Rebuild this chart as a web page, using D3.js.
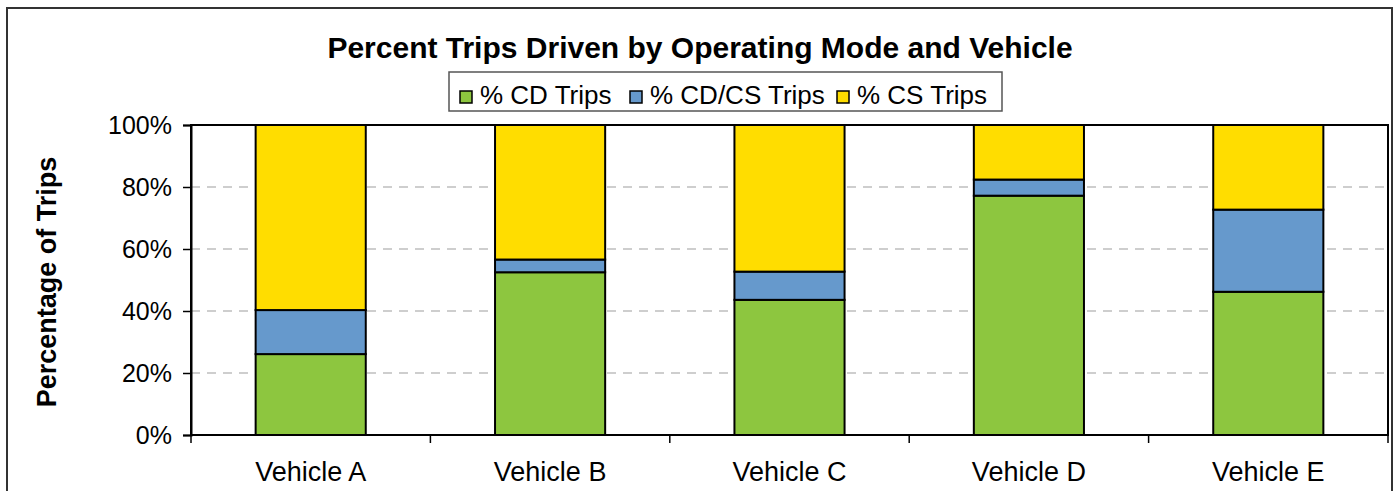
<!DOCTYPE html>
<html lang="en">
<head>
<meta charset="UTF-8">
<title>Percent Trips Driven by Operating Mode and Vehicle</title>
<script src="https://d3js.org/d3.v7.min.js"></script>
<style>
    body { margin: 0; background: #fff; font-family: "Liberation Sans", Arial, sans-serif; }
    svg text { fill: #000; }
    .grid line { stroke: #bfbfbf; stroke-dasharray: 9,7; stroke-width: 1.5; }
</style>
</head>
<body>
<svg id="chart" width="1398" height="491"></svg>
<script>
    // data (percent)
    var vehicles = ["Vehicle A", "Vehicle B", "Vehicle C", "Vehicle D", "Vehicle E"];
    var seriesNames = ["% CD Trips", "% CD/CS Trips", "% CS Trips"];
    var cdTrips   = [26.1, 52.5, 43.6, 77.2, 46.2];
    var cdcsTrips = [14.2, 4.1, 9.1, 5.2, 26.5];
    var csTrips   = [59.7, 43.4, 47.3, 17.6, 27.3];
    var yTicks = [0, 20, 40, 60, 80, 100];
    var colors = ["#8dc63f", "#6699cc", "#ffdd00"];

    var rows = vehicles.map(function(v, i) {
        return { vehicle: v, "% CD Trips": cdTrips[i], "% CD/CS Trips": cdcsTrips[i], "% CS Trips": csTrips[i] };
    });
    var stack = d3.stack().keys(seriesNames)(rows);

    var svg = d3.select("#chart");
    var plot = { left: 191, right: 1388, top: 125, bottom: 435 };

    // outer frame
    svg.append("rect")
        .attr("x", 7).attr("y", 8)
        .attr("width", 1385).attr("height", 500)
        .attr("fill", "none").attr("stroke", "#333").attr("stroke-width", 2);

    var x = d3.scaleBand().domain(vehicles)
        .range([plot.left, plot.right])
        .paddingInner(0.54).paddingOuter(0.27);
    var y = d3.scaleLinear().domain([0, 100]).range([plot.bottom, plot.top]);

    // gridlines
    svg.append("g").attr("class", "grid")
        .selectAll("line").data(yTicks.filter(function(d) { return d > 0 && d < 100; }))
        .enter().append("line")
        .attr("x1", plot.left).attr("x2", plot.right)
        .attr("y1", function(d) { return y(d); }).attr("y2", function(d) { return y(d); });

    // plot frame
    svg.append("rect")
        .attr("x", plot.left).attr("y", plot.top)
        .attr("width", plot.right - plot.left).attr("height", plot.bottom - plot.top)
        .attr("fill", "none").attr("stroke", "#000").attr("stroke-width", 2);

    // bars
    svg.append("g").selectAll("g").data(stack).enter().append("g")
        .attr("fill", function(d, i) { return colors[i]; })
        .selectAll("rect").data(function(d) { return d; })
        .enter().append("rect")
        .attr("x", function(d) { return x(d.data.vehicle); })
        .attr("y", function(d) { return y(d[1]); })
        .attr("width", x.bandwidth())
        .attr("height", function(d) { return y(d[0]) - y(d[1]); })
        .attr("stroke", "#000").attr("stroke-width", 2);

    // y axis
    var yAxis = svg.append("g")
        .attr("transform", "translate(" + plot.left + ",0)")
        .call(d3.axisLeft(y).tickValues(yTicks).tickSize(8).tickPadding(11)
            .tickFormat(function(d) { return d + "%"; }));
    yAxis.select(".domain").attr("stroke", "#000").attr("stroke-width", 2);
    yAxis.selectAll(".tick line").attr("stroke", "#000").attr("stroke-width", 1.5);
    yAxis.selectAll("text").attr("font-size", 25).attr("font-family", "Liberation Sans, Arial, sans-serif");

    // x axis: labels centred, ticks between categories
    var xAxis = svg.append("g")
        .attr("transform", "translate(0," + plot.bottom + ")")
        .call(d3.axisBottom(x).tickSize(0).tickPadding(27));
    xAxis.select(".domain").remove();
    xAxis.selectAll("text").attr("font-size", 27).attr("font-family", "Liberation Sans, Arial, sans-serif");

    var step = x.step();
    svg.append("g").selectAll("line").data(d3.range(vehicles.length + 1))
        .enter().append("line")
        .attr("x1", function(i) { return plot.left + i * step; })
        .attr("x2", function(i) { return plot.left + i * step; })
        .attr("y1", plot.bottom).attr("y2", plot.bottom + 8)
        .attr("stroke", "#000").attr("stroke-width", 1.5);

    // y axis title
    svg.append("text")
        .attr("transform", "translate(56," + ((plot.top + plot.bottom) / 2 + 2) + ") rotate(-90)")
        .attr("text-anchor", "middle")
        .attr("font-size", 27).attr("font-weight", "bold")
        .text("Percentage of Trips");

    // title
    svg.append("text")
        .attr("x", 700).attr("y", 58)
        .attr("text-anchor", "middle")
        .attr("font-size", 30).attr("font-weight", "bold")
        .text("Percent Trips Driven by Operating Mode and Vehicle");

    // legend
    var legend = svg.append("g");
    legend.append("rect")
        .attr("x", 449).attr("y", 72).attr("width", 553).attr("height", 39)
        .attr("fill", "#fff").attr("stroke", "#555").attr("stroke-width", 1.5);
    var legendX = [460, 630, 837];
    seriesNames.forEach(function(name, i) {
        legend.append("rect")
            .attr("x", legendX[i]).attr("y", 91).attr("width", 12).attr("height", 12)
            .attr("fill", colors[i]).attr("stroke", "#000").attr("stroke-width", 1.5);
        legend.append("text")
            .attr("x", legendX[i] + 20).attr("y", 104)
            .attr("font-size", 26)
            .text(name);
    });
</script>
</body>
</html>
